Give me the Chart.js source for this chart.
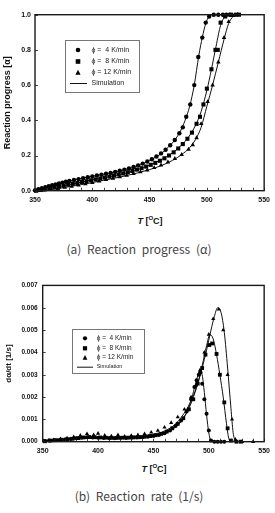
<!DOCTYPE html>
<html>
<head>
<meta charset="utf-8">
<script src="https://cdn.jsdelivr.net/npm/chart.js@4"></script>
<style>
  body { margin: 0; background: #fff; width: 275px; height: 513px; position: relative; overflow: hidden; font-family: "Liberation Sans", Arial, sans-serif; }
  canvas { position: absolute; left: 0; }
  .xt { position: absolute; font-weight: bold; font-size: 9px; color: #111; transform: translate(-50%, -50%); white-space: nowrap; }
  .xt sup { font-size: 6px; vertical-align: 4px; }
  .cap { position: absolute; font-family: "Noto Sans CJK KR", "Liberation Sans", sans-serif; font-size: 12px; color: #444; word-spacing: 3px; transform: translate(-50%, -50%); white-space: nowrap; }
</style>
</head>
<body>
<canvas id="alphaChart" width="275" height="212" style="top:0"></canvas>
<canvas id="rateChart" width="275" height="190" style="top:270px"></canvas>

<div class="xt" style="left:150px; top:220px;"><i>T</i> [<sup>O</sup>C]</div>
<div class="cap" style="left:139px; top:248px;">(a) Reaction progress (α)</div>
<div class="xt" style="left:154px; top:468px;"><i>T</i> [<sup>O</sup>C]</div>
<div class="cap" style="left:139px; top:495px;">(b) Reaction rate (1/s)</div>

<script>
// (a) reaction progress, measured
const tempA4 = [350,353,356,359,362,365,368,371,374,377,380,384,388,392,396,400,404,408,412,416,420,424,428,432,436,440,444,448,452,456,460,464,468,472,476,479,482,485.5,489,492.5,496,499,502,506,510,514,517,520];
const alpha4 = [0.002,0.008,0.014,0.02,0.026,0.031,0.036,0.041,0.046,0.051,0.055,0.061,0.066,0.071,0.076,0.081,0.086,0.091,0.096,0.101,0.107,0.113,0.12,0.127,0.135,0.144,0.154,0.166,0.179,0.194,0.212,0.233,0.258,0.288,0.326,0.36,0.42,0.49,0.6,0.76,0.87,0.955,0.99,1,1,1,1,1];
const tempA8 = [351,355,359,363,367,371,375,379,383,387,391,395,399,403,407,411,415,419,423,427,431,435,439,443,447,451,455,459,463,467,471,475,479,483,487,491,494,497,500,504,507.5,509.5,512,516,521,525.5,528];
const alpha8 = [0,0.004,0.009,0.014,0.019,0.024,0.029,0.034,0.039,0.044,0.049,0.054,0.059,0.064,0.069,0.074,0.08,0.086,0.092,0.098,0.105,0.112,0.12,0.128,0.137,0.147,0.158,0.17,0.184,0.2,0.218,0.24,0.265,0.295,0.33,0.38,0.42,0.49,0.58,0.69,0.8,0.8,0.955,0.99,1,1,1];
const tempA12 = [352,358,364,370,376,382,388,394,400,406,412,418,424,430,436,442,448,454,460,466,472,478,484,487.7,491,495,500.7,505,510,515,519,523,527];
const alpha12 = [0,0.003,0.007,0.012,0.018,0.024,0.031,0.038,0.046,0.054,0.062,0.07,0.078,0.087,0.096,0.106,0.117,0.13,0.145,0.162,0.182,0.205,0.235,0.26,0.3,0.38,0.505,0.6,0.73,0.87,0.96,0.995,1];

// (a) reaction progress, simulation
const simTempA4 = [350,360,370,380,390,400,410,420,430,440,450,460,466,472,477,481,485,489,493,496,499,502,505,510];
const simAlpha4 = [0,0.018,0.038,0.055,0.07,0.082,0.094,0.106,0.122,0.142,0.172,0.21,0.245,0.288,0.34,0.4,0.48,0.6,0.77,0.87,0.95,0.99,1,1];
const simTempA8 = [350,360,370,380,390,400,410,420,430,440,450,460,470,478,484,490,495,500,504,508,512,516,520];
const simAlpha8 = [0,0.01,0.022,0.035,0.048,0.061,0.073,0.086,0.101,0.12,0.145,0.176,0.215,0.26,0.305,0.37,0.45,0.57,0.69,0.82,0.94,0.99,1];
const simTempA12 = [350,360,370,380,390,400,410,420,430,440,450,460,470,478,485,490,495,500,505,510,515,519,523,526];
const simAlpha12 = [0,0.004,0.012,0.023,0.034,0.046,0.059,0.072,0.086,0.102,0.12,0.142,0.172,0.205,0.245,0.29,0.36,0.48,0.6,0.73,0.86,0.95,0.99,1];

// (b) reaction rate, measured
const tempR4 = [352,356,360,365,370,375,380,385,390,395,400,405,410,415,420,425,430,435,440,445,450,455,460,465,470,475,480,484,487,489,491,492.5,494,496,498,500,502,505,508,511,514];
const rate4 = [0.00003,0.00005,0.00007,0.00008,0.0001,0.00012,0.00015,0.00018,0.0002,0.00019,0.00018,0.00017,0.00016,0.00016,0.00017,0.00017,0.00018,0.00019,0.0002,0.00022,0.00025,0.0003,0.00038,0.0005,0.0007,0.00095,0.00135,0.0019,0.00245,0.00275,0.003,0.0031,0.0026,0.0019,0.00125,0.0005,0.00005,0,0,0,0];
const tempR8 = [352,357,362,367,372,377,382,387,392,397,402,407,412,417,422,427,432,437,442,447,452,457,462,467,472,477,482,486,490,494,497,500.5,503,507,510,514,517,520,525,529];
const rate8 = [0.00002,0.00005,0.00007,0.00009,0.00011,0.00013,0.00016,0.00019,0.00021,0.0002,0.00019,0.00018,0.00017,0.00017,0.00018,0.00018,0.00019,0.0002,0.00022,0.00025,0.00029,0.00035,0.00045,0.0006,0.0008,0.00105,0.00145,0.0019,0.0026,0.0033,0.0039,0.00433,0.0044,0.00393,0.003,0.00176,0.0006,0.00005,0,0];
const tempR12 = [355,360,366,372,378,384,390,396,400,406,412,418,424,430,436,442,448,454,460,466,472,478,484,488,492,496,500,504,509,513,517,521,524,530,540];
const rate12 = [0.00005,0.00008,0.00012,0.00016,0.00022,0.00028,0.00035,0.0003,0.00037,0.00028,0.00025,0.0003,0.00024,0.00027,0.0003,0.00035,0.00042,0.0005,0.00064,0.00085,0.0011,0.00145,0.002,0.0025,0.0032,0.004,0.0048,0.0055,0.00593,0.005,0.003,0.001,0.0001,0,0];

// (b) reaction rate, simulation
const simTempR4 = [350,360,370,380,390,400,410,420,430,440,450,460,470,475,480,484,487,490,492,494,496,498,500,502,505];
const simRate4 = [0.00002,0.00006,0.0001,0.00013,0.00015,0.00016,0.00016,0.00017,0.00018,0.0002,0.00025,0.00037,0.00065,0.0009,0.0013,0.00185,0.0024,0.00295,0.0032,0.003,0.0022,0.0012,0.0004,0.00005,0];
const simTempR8 = [350,360,370,380,390,400,410,420,430,440,450,460,470,480,485,490,494,498,501,504,507,510,513,516,518,520];
const simRate8 = [0.00001,0.00006,0.0001,0.00014,0.00017,0.00018,0.00018,0.00018,0.00019,0.00021,0.00027,0.0004,0.0007,0.0013,0.00185,0.0026,0.0034,0.0043,0.0048,0.0046,0.0039,0.003,0.002,0.0008,0.00015,0];
const simTempR12 = [350,360,370,380,390,400,410,420,430,440,450,460,470,480,485,490,494,498,502,505,508,511,514,517,520,522,524];
const simRate12 = [0.00001,0.00006,0.00011,0.00015,0.00018,0.0002,0.00021,0.00022,0.00024,0.00027,0.00034,0.00048,0.0008,0.00145,0.00195,0.0026,0.0033,0.0041,0.005,0.0056,0.006,0.0058,0.0049,0.0033,0.0015,0.0004,0];

const legendLabels = ['ϕ =  4 K/min', 'ϕ =  8 K/min', 'ϕ = 12 K/min', 'Simulation'];

function pts(xs, ys) {
  return xs.map((x, i) => ({ x: x, y: ys[i] }));
}

function markers(xs, ys, style, r) {
  return {
    data: pts(xs, ys), showLine: false, pointStyle: style, pointRadius: r,
    backgroundColor: '#000', borderColor: '#000', borderWidth: 0, clip: false
  };
}

function simLine(xs, ys) {
  return {
    data: pts(xs, ys), showLine: true, pointRadius: 0, borderColor: '#111', borderWidth: 1,
    cubicInterpolationMode: 'monotone', fill: false, clip: false
  };
}

// box round the plot, inward ticks (x minor ticks every 10 degrees)
const frame = {
  id: 'frame',
  afterDraw(chart) {
    const { ctx, chartArea: a, scales } = chart;
    const x = scales.x, y = scales.y;
    ctx.save();
    ctx.strokeStyle = '#1a1a1a';
    ctx.lineWidth = 0.8;
    for (let v = x.min; v <= x.max; v += 10) {
      const px = Math.round(x.getPixelForValue(v)) + 0.5;
      ctx.beginPath(); ctx.moveTo(px, a.bottom); ctx.lineTo(px, a.bottom - 3); ctx.stroke();
    }
    y.ticks.forEach(t => {
      const py = Math.round(y.getPixelForValue(t.value)) + 0.5;
      ctx.beginPath(); ctx.moveTo(a.left, py); ctx.lineTo(a.left + 3, py); ctx.stroke();
    });
    ctx.lineWidth = 1.4;
    ctx.strokeRect(a.left, a.top, a.right - a.left, a.bottom - a.top);
    ctx.restore();
  }
};

// boxed legend in the upper left of the plot
function legendBox(b) {
  return {
    id: 'legendBox',
    afterDraw(chart) {
      const ctx = chart.ctx;
      ctx.save();
      ctx.fillStyle = '#fff';
      ctx.fillRect(b.x, b.y, b.w, b.h);
      ctx.strokeStyle = '#777';
      ctx.lineWidth = 1;
      ctx.strokeRect(b.x + 0.5, b.y + 0.5, b.w, b.h);
      ctx.fillStyle = '#000';
      const m = b.mx;
      // circle
      ctx.beginPath(); ctx.arc(m, b.rows[0], b.r, 0, Math.PI * 2); ctx.fill();
      // square
      ctx.fillRect(m - b.r, b.rows[1] - b.r, b.r * 2, b.r * 2);
      // triangle
      ctx.beginPath();
      ctx.moveTo(m, b.rows[2] - b.r - 0.5);
      ctx.lineTo(m + b.r + 0.3, b.rows[2] + b.r);
      ctx.lineTo(m - b.r - 0.3, b.rows[2] + b.r);
      ctx.closePath(); ctx.fill();
      // line
      ctx.strokeStyle = '#111';
      ctx.beginPath(); ctx.moveTo(b.lx1, b.rows[3] + 0.5); ctx.lineTo(b.lx2, b.rows[3] + 0.5); ctx.stroke();
      ctx.fillStyle = '#222';
      ctx.textBaseline = 'middle';
      legendLabels.forEach((t, i) => {
        const size = i === 3 ? b.simSize : b.size;
        ctx.font = size + 'px "Liberation Sans", Arial, sans-serif';
        ctx.fillText(t, b.tx, b.rows[i]);
      });
      ctx.restore();
    }
  };
}

function makeChart(id, datasets, yOpts, yWidth, xHeight, padTop, box) {
  return new Chart(document.getElementById(id), {
    type: 'scatter',
    data: { datasets: datasets },
    options: {
      responsive: false,
      animation: false,
      devicePixelRatio: 1,
      layout: { padding: { top: padTop, right: 10, bottom: 0, left: 0 } },
      plugins: { legend: { display: false }, tooltip: { enabled: false } },
      scales: {
        x: {
          type: 'linear', min: 350, max: 550,
          grid: { display: false, drawTicks: false, tickLength: 0 },
          border: { display: false },
          afterFit: s => { s.height = xHeight; },
          ticks: {
            stepSize: 50, autoSkip: false, maxRotation: 0, padding: 5,
            color: '#111', font: { size: 7, weight: 'bold' }
          }
        },
        y: Object.assign({
          type: 'linear',
          grid: { display: false, drawTicks: false, tickLength: 0 },
          border: { display: false },
          afterFit: s => { s.width = yWidth; }
        }, yOpts)
      }
    },
    plugins: [frame, legendBox(box)]
  });
}

makeChart('alphaChart', [
  markers(tempA4, alpha4, 'circle', 2.2),
  markers(tempA8, alpha8, 'rect', 2.9),
  markers(tempA12, alpha12, 'triangle', 2.6),
  simLine(simTempA4, simAlpha4),
  simLine(simTempA8, simAlpha8),
  simLine(simTempA12, simAlpha12)
], {
  min: 0, max: 1,
  title: { display: true, text: 'Reaction progress [α]', color: '#111', font: { size: 9, weight: 'bold' }, padding: { top: 2, bottom: 0 } },
  ticks: { stepSize: 0.2, autoSkip: false, padding: 4, color: '#111', font: { size: 7, weight: 'bold' }, callback: v => v.toFixed(1) }
}, 35, 21.3, 14.7,
{ x: 65, y: 40, w: 74, h: 52, rows: [50, 61.5, 72.5, 83], mx: 78, r: 2.3, tx: 91.5, lx1: 70, lx2: 87, size: 7, simSize: 7 });

makeChart('rateChart', [
  markers(tempR4, rate4, 'circle', 2.0),
  markers(tempR8, rate8, 'rect', 2.7),
  markers(tempR12, rate12, 'triangle', 2.4),
  simLine(simTempR4, simRate4),
  simLine(simTempR8, simRate8),
  simLine(simTempR12, simRate12)
], {
  min: 0, max: 0.007,
  title: { display: true, text: 'dα/dt [1/s]', color: '#111', font: { size: 8, weight: 'bold' }, padding: { top: 4, bottom: 0 } },
  ticks: { stepSize: 0.001, autoSkip: false, padding: 5, color: '#111', font: { size: 6.5, weight: 'bold' }, callback: v => v.toFixed(3) }
}, 42.7, 18.3, 15.4,
{ x: 72, y: 59, w: 72, h: 44, rows: [68.3, 78.3, 87.7, 96.7], mx: 85, r: 2.1, tx: 96.7, lx1: 77, lx2: 93, size: 6.5, simSize: 5.5 });
</script>
</body>
</html>
